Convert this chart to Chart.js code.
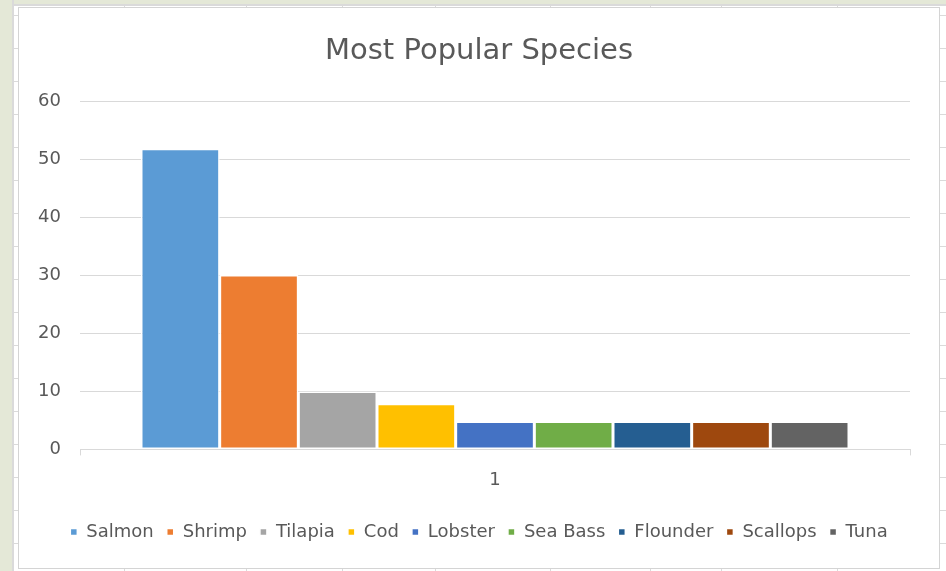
<!DOCTYPE html>
<html>
<head>
<meta charset="utf-8">
<script src="https://cdn.jsdelivr.net/npm/chart.js@4"></script>
<style>
    html, body {
        margin: 0;
        padding: 0;
    }
    body {
        width: 946px;
        height: 571px;
        position: relative;
        overflow: hidden;
        background-color: #ffffff;
        /* sheet rows behind the chart, one line every 33px */
        background-image: linear-gradient(to bottom, transparent 15px, #dadada 15px, #dadada 16px, transparent 16px);
        background-size: 100% 33px;
    }
    .sheet-top {
        position: absolute;
        left: 0; top: 0;
        width: 946px; height: 4px;
        background: #e4e8d7;
        border-bottom: 2px solid #dadada;
    }
    .sheet-left {
        position: absolute;
        left: 0; top: 0;
        width: 12px; height: 571px;
        background: #e4e8d7;
        border-right: 2px solid #dadada;
    }
    .col {
        position: absolute;
        top: 4px;
        width: 1px;
        height: 571px;
        background: #dadada;
    }
    #chartBox {
        position: absolute;
        left: 18px;
        top: 7px;
        width: 920px;
        height: 560px;
        background: #ffffff;
        border: 1px solid #d4d4d4;
    }
</style>
</head>
<body>
<div class="sheet-top"></div>
<div class="sheet-left"></div>
<div class="col" style="left:124px"></div>
<div class="col" style="left:246px"></div>
<div class="col" style="left:342px"></div>
<div class="col" style="left:435px"></div>
<div class="col" style="left:550px"></div>
<div class="col" style="left:650px"></div>
<div class="col" style="left:721px"></div>
<div class="col" style="left:837px"></div>
<div id="chartBox"><canvas id="speciesChart" width="920" height="560"></canvas></div>

<script>
const categories = ['1'];
const species = ['Salmon', 'Shrimp', 'Tilapia', 'Cod', 'Lobster', 'Sea Bass', 'Flounder', 'Scallops', 'Tuna'];
const counts = [51.9, 30.1, 10, 7.9, 4.8, 4.8, 4.8, 4.8, 4.8];
const yTicks = [0, 10, 20, 30, 40, 50, 60];
const colors = ['#5B9BD5', '#ED7D31', '#A5A5A5', '#FFC000', '#4472C4', '#70AD47', '#255E91', '#9E480E', '#636363'];

const textColor = '#595959';
const gridColor = '#d9d9d9';
const fontFamily = '"DejaVu Sans", sans-serif';

document.addEventListener("DOMContentLoaded", function() {
    const ctx = document.getElementById('speciesChart').getContext('2d');

    const datasets = species.map((name, i) => ({
        label: name,
        data: [counts[i]],
        backgroundColor: colors[i],
        borderColor: '#ffffff',
        borderWidth: 1.5,
        borderSkipped: false
    }));

    new Chart(ctx, {
        type: 'bar',
        data: {
            labels: categories,
            datasets: datasets
        },
        options: {
            responsive: false,
            animation: false,
            devicePixelRatio: 1,
            layout: {
                padding: { left: 0, right: 0, top: 0, bottom: 17 }
            },
            datasets: {
                bar: {
                    barPercentage: 1,
                    categoryPercentage: 0.853
                }
            },
            plugins: {
                title: {
                    display: true,
                    text: 'Most Popular Species',
                    color: textColor,
                    font: { family: fontFamily, size: 29, weight: 'normal' },
                    padding: { top: 26, bottom: 33 }
                },
                legend: {
                    position: 'bottom',
                    labels: {
                        color: textColor,
                        font: { family: fontFamily, size: 18 },
                        boxWidth: 7,
                        boxHeight: 7,
                        padding: 13
                    }
                },
                tooltip: { enabled: false }
            },
            scales: {
                x: {
                    offset: true,
                    afterFit: function(scale) {
                        scale.height += 5;
                    },
                    grid: {
                        offset: true,
                        drawOnChartArea: false,
                        drawTicks: true,
                        tickLength: 6,
                        color: gridColor
                    },
                    border: { color: gridColor, width: 1 },
                    ticks: {
                        color: textColor,
                        font: { family: fontFamily, size: 18 },
                        padding: 14
                    }
                },
                y: {
                    min: 0,
                    max: 60,
                    afterBuildTicks: function(scale) {
                        scale.ticks = yTicks.map(v => ({ value: v }));
                    },
                    afterFit: function(scale) {
                        scale.width = 61;
                    },
                    grid: {
                        color: gridColor,
                        lineWidth: 1,
                        drawTicks: false
                    },
                    border: { display: false },
                    ticks: {
                        color: textColor,
                        font: { family: fontFamily, size: 18 },
                        padding: 19
                    }
                },
                // empty right-hand axis, only keeps a margin right of the plot
                spacer: {
                    type: 'linear',
                    position: 'right',
                    grid: { display: false },
                    border: { display: false },
                    ticks: { display: false },
                    afterFit: function(scale) {
                        scale.width = 29;
                    }
                }
            }
        }
    });
});
</script>
</body>
</html>
